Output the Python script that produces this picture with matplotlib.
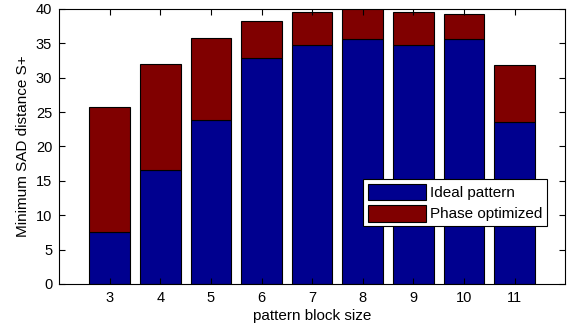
import matplotlib.pyplot as plt
import numpy as np

plt.rcParams['font.family'] = ['Liberation Sans', 'DejaVu Sans']
plt.rcParams['font.size'] = 11

# datos
tamanos = [3, 4, 5, 6, 7, 8, 9, 10, 11]
ideal = [7.5, 16.5, 23.9, 32.8, 34.8, 35.6, 34.8, 35.6, 23.5]
optimizado = [25.8, 32.0, 35.7, 38.2, 39.5, 40.3, 39.5, 39.3, 31.9]

azul = '#00008f'
rojo = '#800000'

fig = plt.figure(figsize=(5.68, 3.29), dpi=100)
ax = fig.add_axes([0.104, 0.137, 0.891, 0.836])

x = np.array(tamanos)
extra = np.array(optimizado) - np.array(ideal)
ax.bar(x, ideal, width=0.8, color=azul, edgecolor='black', linewidth=0.8,
       label='Ideal pattern')
ax.bar(x, extra, width=0.8, bottom=ideal, color=rojo, edgecolor='black',
       linewidth=0.8, label='Phase optimized')

ax.set_xlim(2, 12)
ax.set_ylim(0, 40)
ax.set_xticks(tamanos)
ax.set_yticks(range(0, 41, 5))
ax.tick_params(direction='in', top=True, right=True, length=4, width=0.8,
               labelsize=10.5, pad=5)
for s in ax.spines.values():
    s.set_linewidth(0.8)

ax.set_xlabel('pattern block size', labelpad=3)
ax.set_ylabel('Minimum SAD distance S+', labelpad=4)

leg = ax.legend(loc='lower right', bbox_to_anchor=(0.965, 0.21), fancybox=False,
                framealpha=1, edgecolor='black', handlelength=3.8,
                handleheight=1.3, borderpad=0.3, labelspacing=0.3,
                handletextpad=0.3, borderaxespad=0)
leg.get_frame().set_linewidth(0.8)

fig.savefig('out.png', dpi=100)
